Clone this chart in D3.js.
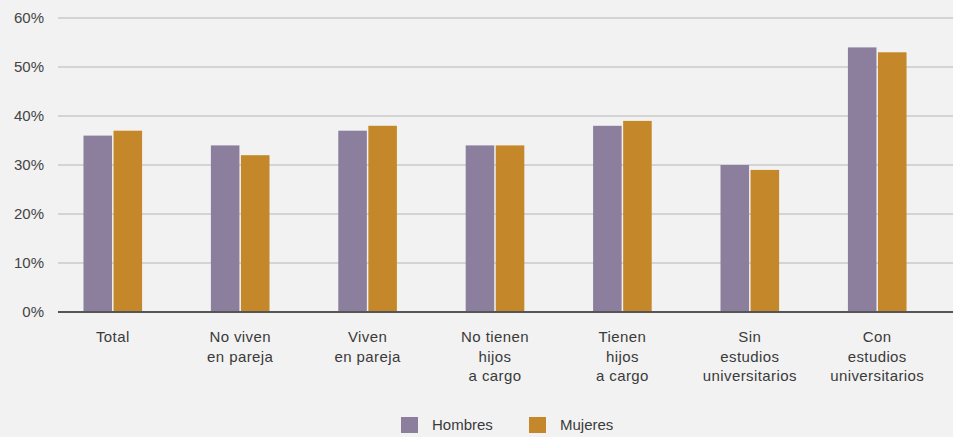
<!DOCTYPE html>
<html>
<head>
<meta charset="utf-8">
<script src="https://cdn.jsdelivr.net/npm/d3@7"></script>
<style>
  body { margin: 0; background: #f2f2f2; }
  svg { display: block; font-family: "Liberation Sans", Arial, sans-serif; }
</style>
</head>
<body>
<svg width="953" height="437"></svg>
<script>
// categories (multi-line labels split on "|")
const categories = [
  "Total",
  "No viven|en pareja",
  "Viven|en pareja",
  "No tienen|hijos|a cargo",
  "Tienen|hijos|a cargo",
  "Sin|estudios|universitarios",
  "Con|estudios|universitarios"
];
const seriesNames = ["Hombres", "Mujeres"];
const hombres = [36, 34, 37, 34, 38, 30, 54];
const mujeres = [37, 32, 38, 34, 39, 29, 53];
const yTicks = [0, 10, 20, 30, 40, 50, 60];
const colors = ["#8b7f9d", "#c4872a"];

const svg = d3.select("svg"),
    width = +svg.attr("width"),
    height = +svg.attr("height");

const margin = {top: 18, right: 0, bottom: 125, left: 58};

const rows = categories.map(function (c, i) {
    return {cat: c, values: [hombres[i], mujeres[i]]};
});

const x0 = d3.scaleBand()
    .domain(categories)
    .range([margin.left, 932])
    .paddingInner(0.54)
    .paddingOuter(0.2);

const x1 = d3.scaleBand()
    .domain(seriesNames)
    .range([0, x0.bandwidth()])
    .paddingInner(0.05);

const y = d3.scaleLinear()
    .domain([0, 60])
    .range([height - margin.bottom, margin.top]);

// grid lines
const grid = svg.append("g").attr("class", "grid");
grid.selectAll("line")
    .data(yTicks.filter(function (d) { return d > 0; }))
    .enter().append("line")
    .attr("x1", margin.left)
    .attr("x2", width)
    .attr("y1", function (d) { return y(d); })
    .attr("y2", function (d) { return y(d); })
    .attr("stroke", "#cacaca")
    .attr("stroke-width", 1.5);

// y tick labels
const yAxis = d3.axisLeft(y)
    .tickValues(yTicks)
    .tickFormat(function (d) { return d + "%"; })
    .tickSize(0)
    .tickPadding(14);

const yG = svg.append("g")
    .attr("transform", "translate(" + margin.left + ",0)")
    .call(yAxis);
yG.select(".domain").remove();
yG.selectAll("text")
    .attr("fill", "#444")
    .style("font-size", "15px");

// bars
const groups = svg.append("g")
    .selectAll("g")
    .data(rows)
    .enter().append("g")
    .attr("transform", function (d) { return "translate(" + x0(d.cat) + ",0)"; });

groups.selectAll("rect")
    .data(function (d) {
        return d.values.map(function (v, i) { return {name: seriesNames[i], value: v, i: i}; });
    })
    .enter().append("rect")
    .attr("x", function (d) { return x1(d.name); })
    .attr("width", x1.bandwidth())
    .attr("y", function (d) { return y(d.value); })
    .attr("height", function (d) { return y(0) - y(d.value); })
    .attr("fill", function (d) { return colors[d.i]; });

// baseline
svg.append("line")
    .attr("x1", margin.left)
    .attr("x2", width)
    .attr("y1", y(0))
    .attr("y2", y(0))
    .attr("stroke", "#555")
    .attr("stroke-width", 2);

// category labels
const xAxis = d3.axisBottom(x0).tickSize(0).tickFormat("");
const xG = svg.append("g")
    .attr("transform", "translate(0," + y(0) + ")")
    .call(xAxis);
xG.select(".domain").remove();

xG.selectAll(".tick").append("text")
    .attr("text-anchor", "middle")
    .attr("fill", "#3a3a3a")
    .style("font-size", "15px")
    .style("letter-spacing", "0.4px")
    .selectAll("tspan")
    .data(function (d) { return d.split("|"); })
    .enter().append("tspan")
    .attr("x", 0)
    .attr("y", function (d, i) { return 30 + i * 19.5; })
    .text(function (d) { return d; });

// legend
const legend = svg.append("g")
    .attr("transform", "translate(401,417)");

const item = legend.selectAll("g")
    .data(seriesNames)
    .enter().append("g")
    .attr("transform", function (d, i) { return "translate(" + (i * 128) + ",0)"; });

item.append("rect")
    .attr("width", 17)
    .attr("height", 16)
    .attr("fill", function (d, i) { return colors[i]; });

item.append("text")
    .attr("x", 31)
    .attr("y", 13)
    .attr("fill", "#3a3a3a")
    .style("font-size", "15px")
    .text(function (d) { return d; });
</script>
</body>
</html>
